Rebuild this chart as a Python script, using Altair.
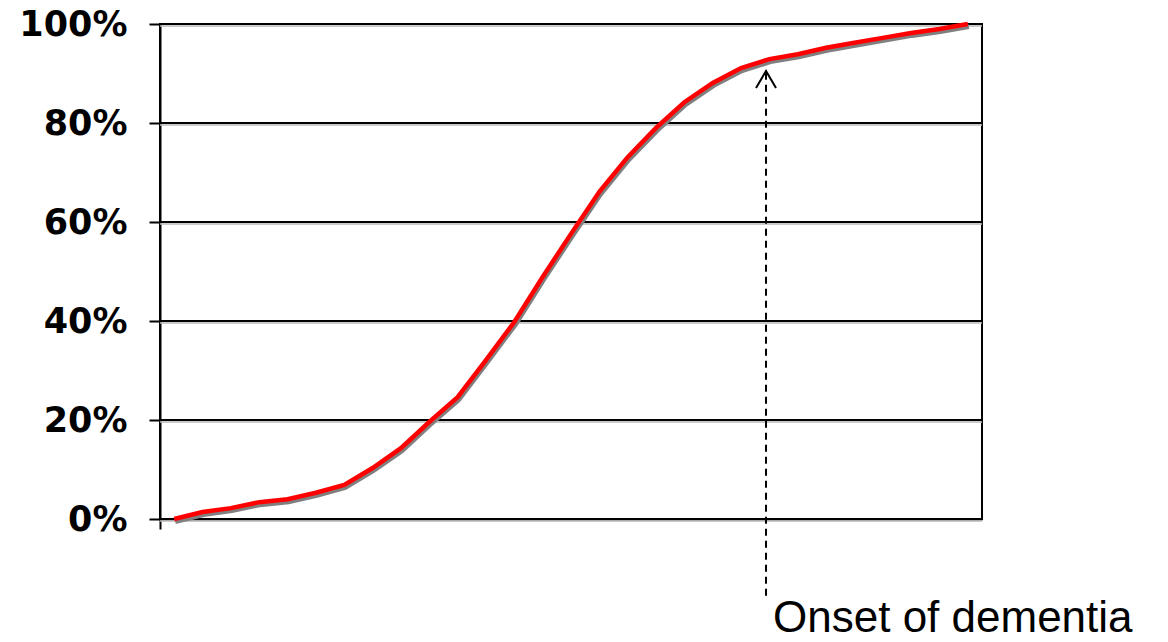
import altair as alt
import pandas as pd

# Cumulative share along the disease course (one value per stage, in percent)
stage = list(range(29))
share_pct = [0, 1.4, 2.2, 3.4, 4.0, 5.3, 6.9, 10.3, 14.3, 19.6, 24.6, 32.1,
             39.8, 48.9, 57.6, 66.1, 73.1, 79.0, 84.2, 88.1, 91.1, 92.9,
             93.9, 95.2, 96.2, 97.2, 98.2, 99.0, 100]

grid_levels = [0, 0.2, 0.4, 0.6, 0.8, 1.0]

# Annotation: dashed arrow pointing at the curve, with its caption below the chart
onset_stage = 20.88
arrow_tip = 0.905
arrow_base = -0.155
caption_level = -0.2283
caption = "Onset of dementia"

curve = pd.DataFrame({"stage": stage, "share": [v / 100 for v in share_pct]})
grid = pd.DataFrame({"share": grid_levels})
arrow = pd.DataFrame({"stage": [onset_stage], "share": [arrow_base], "top": [arrow_tip]})
head = pd.DataFrame({"stage": [onset_stage], "share": [arrow_tip]})
label = pd.DataFrame({"stage": [onset_stage], "share": [caption_level], "text": [caption]})

x_scale = alt.Scale(domain=[-0.5, 28.5], nice=False, zero=False)
y_scale = alt.Scale(domain=[0, 1], nice=False)

x_axis = alt.Axis(values=[-0.5], labels=False, title=None, grid=False,
                  tickSize=10, tickColor="black", tickWidth=2,
                  domainColor="black", domainWidth=2)
y_axis = alt.Axis(values=grid_levels, format=".0%", title=None, grid=False,
                  tickSize=11, tickColor="black", tickWidth=2,
                  domainColor="black", domainWidth=2,
                  labelFont="DejaVu Sans", labelFontWeight="bold",
                  labelFontSize=35, labelColor="black", labelPadding=22)

# Every layer shares the same encodings so the axes merge cleanly
X = alt.X("stage:Q", scale=x_scale, axis=x_axis)
Y = alt.Y("share:Q", scale=y_scale, axis=y_axis)

# Horizontal gridlines with a faint shadow underneath
grid_shadow = alt.Chart(grid).mark_rule(color="#b8b8b8", strokeWidth=1.5, yOffset=2).encode(y=Y)
grid_lines = alt.Chart(grid).mark_rule(color="black", strokeWidth=2).encode(y=Y)

line_shadow = alt.Chart(curve).mark_line(
    color="#808080", strokeWidth=5, xOffset=1, yOffset=2.5
).encode(x=X, y=Y)
line_red = alt.Chart(curve).mark_line(color="#ff0000", strokeWidth=4.5).encode(x=X, y=Y)

arrow_shaft = alt.Chart(arrow).mark_rule(
    color="black", strokeWidth=2, strokeDash=[7, 5]
).encode(x=X, y=Y, y2="top:Q")
arrow_head = alt.Chart(head).mark_point(
    shape="M-1,1.7L0,0L1,1.7", size=400, filled=False,
    stroke="black", strokeWidth=2, opacity=1,
).encode(x=X, y=Y)
caption_text = alt.Chart(label).mark_text(
    align="left", baseline="alphabetic", dx=7,
    font="Liberation Sans", fontSize=44, color="black",
).encode(x=X, y=Y, text="text:N")

chart = alt.layer(
    grid_shadow, grid_lines, line_shadow, line_red,
    arrow_shaft, arrow_head, caption_text,
).properties(
    width=822,
    height=495,
    autosize=alt.AutoSizeParams(type="none"),
    padding={"left": 160, "top": 24, "right": 186, "bottom": 123},
    background="white",
).configure_view(
    stroke="black", strokeWidth=2,
)

chart.save("out.html", embed_options={"renderer": "svg", "actions": False})
